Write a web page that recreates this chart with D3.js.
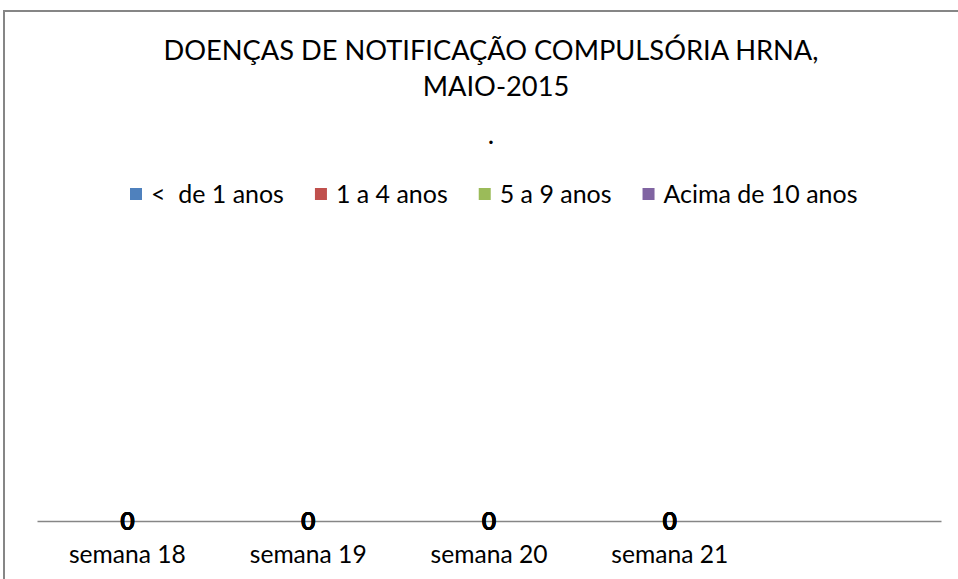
<!DOCTYPE html>
<html>
<head>
<meta charset="utf-8">
<script src="https://cdn.jsdelivr.net/npm/d3@7"></script>
<style>
  body { margin: 0; background: white; }
  text { font-family: Lato, "Open Sans", sans-serif; }
</style>
</head>
<body>
<script>
// data
let weeks = ['semana 18', 'semana 19', 'semana 20', 'semana 21', '']
let seriesNames = ['<  de 1 anos', '1 a 4 anos', '5 a 9 anos', 'Acima de 10 anos']
let menor1 = [0, 0, 0, 0, null]
let de1a4 = [0, 0, 0, 0, null]
let de5a9 = [0, 0, 0, 0, null]
let acima10 = [0, 0, 0, 0, null]
let titleLines = ['DOENÇAS DE NOTIFICAÇÃO COMPULSÓRIA HRNA,', 'MAIO-2015', '.']
let colors = ['#4F81BD', '#C0504D', '#9BBB59', '#8064A2']

function fitSize(sel, target) {
    // scale font-size so the first node's width hits the target width
    let node = sel.node()
    let fs = parseFloat(sel.attr('font-size'))
    let w = node.getComputedTextLength()
    return fs * target / w
}

function main(){
    const width = 958
    const height = 579

    let svg = d3.select('body')
        .append('svg')
        .attr('width', width)
        .attr('height', height)
        .attr('style', 'background-color: white')

    // chart frame
    svg.append('rect')
        .attr('x', 4)
        .attr('y', 11)
        .attr('width', 1000)
        .attr('height', 1000)
        .attr('fill', 'none')
        .attr('stroke', '#868686')
        .attr('stroke-width', 2)

    // title
    let title = svg.append('g')
    let tLines = title.selectAll('text')
        .data(titleLines)
        .enter()
        .append('text')
        .attr('x', (d, i) => i == 1 ? 496 : 491)
        .attr('y', (d, i) => [60, 96, 144][i])
        .attr('text-anchor', 'middle')
        .attr('font-size', 30)
        .attr('fill', '#000')
        .text(d => d)
    let tSize = fitSize(tLines.filter((d, i) => i == 0), 655)
    tLines.attr('font-size', tSize)

    let table = weeks.map((w, i) => ({
        week: w,
        s0: menor1[i], s1: de1a4[i], s2: de5a9[i], s3: acima10[i]
    }))
    let keys = ['s0', 's1', 's2', 's3']
    let stacked = d3.stack().keys(keys).value((d, k) => d[k] || 0)(table)

    let x = d3.scaleBand()
        .domain(weeks.map((w, i) => i))
        .range([37, 941])
        .paddingInner(0.5)
        .paddingOuter(0.25)
    let y = d3.scaleLinear()
        .domain([0, 1])
        .range([521, 230])

    // bars (all zero height)
    svg.append('g')
        .selectAll('g')
        .data(stacked)
        .enter()
        .append('g')
        .attr('fill', (d, i) => colors[i])
        .selectAll('rect')
        .data(d => d)
        .enter()
        .append('rect')
        .attr('x', (d, i) => x(i))
        .attr('width', x.bandwidth())
        .attr('y', d => y(d[1]))
        .attr('height', d => y(d[0]) - y(d[1]))

    // x axis
    let xAxis = d3.axisBottom(x)
        .tickSize(0)
        .tickPadding(0)
        .tickFormat(i => weeks[i])
    let ax = svg.append('g')
        .attr('transform', `translate(0, ${y(0)})`)
        .call(xAxis)
    ax.select('.domain')
        .attr('stroke', '#868686')
        .attr('stroke-width', 1.3)
    let ticks = ax.selectAll('.tick text')
        .attr('font-family', 'Lato, sans-serif')
        .attr('font-size', 24)
        .attr('fill', '#000')
        .attr('dy', 0)
        .attr('y', 42)
    let cSize = fitSize(ticks.filter((d, i) => i == 0), 117)
    ticks.attr('font-size', cSize)

    // data labels (stacked, all overlap at the centre)
    stacked.forEach((s, k) => {
        svg.append('g')
            .selectAll('text')
            .data(s.filter(d => d.data[keys[k]] != null))
            .enter()
            .append('text')
            .attr('x', d => x(weeks.indexOf(d.data.week)) + x.bandwidth() / 2)
            .attr('y', d => (y(d[0]) + y(d[1])) / 2 + 8.5)
            .attr('text-anchor', 'middle')
            .attr('font-family', '"Liberation Serif", serif')
            .attr('font-weight', 'bold')
            .attr('font-size', 25)
            .attr('fill', '#000')
            .text(d => d.data[keys[k]])
    })

    // legend
    let lg = svg.append('g')
    let cx = 130
    let lSize = null
    seriesNames.forEach((name, i) => {
        let item = lg.append('g')
        item.append('rect')
            .attr('x', cx)
            .attr('y', 188)
            .attr('width', 12)
            .attr('height', 12)
            .attr('fill', colors[i])
        let t = item.append('text')
            .attr('x', cx + 21)
            .attr('y', 203)
            .attr('font-size', 24)
            .attr('fill', '#000')
            .attr('xml:space', 'preserve')
            .style('white-space', 'pre')
            .text(name)
        if (lSize == null) lSize = fitSize(t, 133)
        t.attr('font-size', lSize)
        cx = cx + 21 + t.node().getComputedTextLength() + 31
    })
}

main()
</script>
</body>
</html>
